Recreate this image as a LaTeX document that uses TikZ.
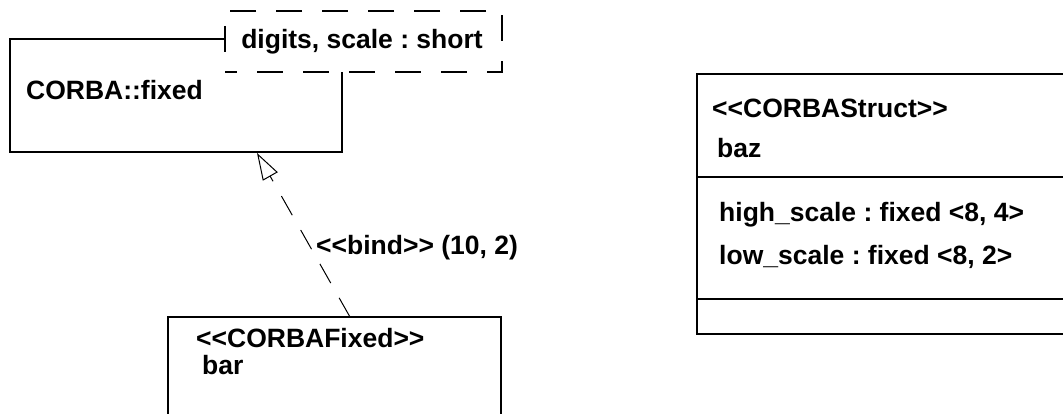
\documentclass[tikz,border=0pt]{standalone}
\usepackage{fontspec}
\setmainfont{Liberation Sans}
\usetikzlibrary{arrows.meta}
\begin{document}
\frenchspacing
\begin{tikzpicture}[x=1pt,y=-1pt,
  umltext/.style={font=\fontsize{26.5}{30}\selectfont\bfseries, inner sep=0pt, anchor=west},
  umlbox/.style={draw, line width=2pt, rectangle, inner sep=0pt},
  parambox/.style={draw, line width=2pt, fill=white, dash pattern=on 26pt off 20pt, dash phase=14pt, rectangle, inner sep=0pt},
  bindline/.style={line width=1pt, dash pattern=on 22pt off 17pt, -{Triangle[open, length=27pt, width=17pt, fill=white]}}
]
\useasboundingbox (0,0) rectangle (1063,414);
% template class
\node[umlbox, minimum width=332pt, minimum height=113pt] (fixed) at (176,95.5) {};
\node[parambox, minimum width=277pt, minimum height=61pt] (params) at (363.5,41.5) {};
\node[umltext, anchor=center] (paramtext) at (362,42) {digits, scale : short};
\node[umltext] (fixedname) at (26,90) {CORBA::fixed};
% bound class
\node[umlbox, minimum width=333pt, minimum height=140pt] (bar) at (334.5,387) {};
\node[umltext] (barstereo) at (196,338.5) {<{}<CORBAFixed>{}>};
\node[umltext] (barname) at (202,365) {bar};
% struct
\node[umlbox, minimum width=400pt, minimum height=260pt] (baz) at (897,204) {};
\draw[line width=2pt] (baz.west |- 0,177) coordinate (d1) -- (d1 -| baz.east);
\draw[line width=2pt] (baz.west |- 0,299) coordinate (d2) -- (d2 -| baz.east);
\node[umltext] (bazstereo) at (712,108) {<{}<CORBAStruct>{}>};
\node[umltext] (bazname) at (717,148) {baz};
\node[umltext] (high) at (719,215) {high\_scale : fixed <8, 4>};
\node[umltext] (low) at (719,257) {low\_scale : fixed <8, 2>};
% bind dependency
\coordinate (bindstart) at (350,317);
\coordinate (bindend) at (257,153);
\draw[bindline] (bindstart) -- (bindend);
\node[umltext] (bindlabel) at (316,248) {<{}<bind>{}> (10, 2)};
\end{tikzpicture}
\end{document}
